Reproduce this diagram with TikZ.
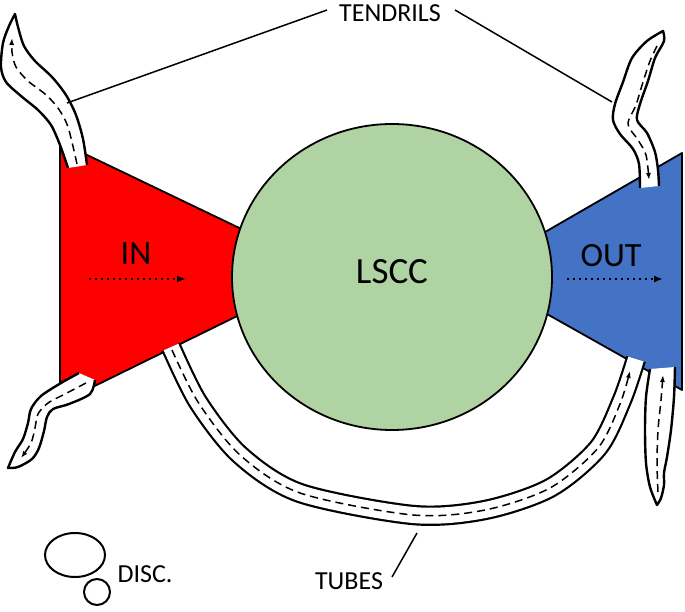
\documentclass[tikz,border=0pt]{standalone}
\usepackage{fontspec}
\setmainfont{Carlito}
\usetikzlibrary{arrows.meta}
\definecolor{inred}{RGB}{255,0,0}
\definecolor{sccgreen}{RGB}{176,211,163}
\definecolor{outblue}{RGB}{68,114,196}
\begin{document}
\begin{tikzpicture}[x=1pt,y=-1pt, line join=round,
  shapeline/.style={draw=black, line width=1.8pt},
  tendril/.style={draw=black, line width=2.4pt, fill=white},
  flowline/.style={draw=black, line width=1.5pt, dash pattern=on 8pt off 5pt, -{Latex[length=7pt,width=5pt]}},
  dotflow/.style={draw=black, line width=2pt, dash pattern=on 2pt off 4pt, -{Latex[length=9pt,width=7pt]}},
  leader/.style={draw=black, line width=1.5pt},
  biglabel/.style={font=\fontsize{34}{40}\selectfont, inner sep=0pt},
  smalllabel/.style={font=\fontsize{26}{30}\selectfont, inner sep=0pt}]
\useasboundingbox (0,0) rectangle (685,612);

% IN and OUT components
\draw[shapeline, fill=inred] (60,142) -- (329,271) -- (60,403) -- cycle;
\draw[shapeline, fill=outblue] (682,153) -- (474,273) -- (682,390) -- cycle;
% LSCC
\draw[shapeline, fill=sccgreen] (392,277) ellipse [x radius=160, y radius=153];

% labels
\node[biglabel] (inlabel) at (136,254) {IN};
\node[biglabel] (outlabel) at (611,256) {OUT};
\node[font=\fontsize{37}{44}\selectfont, inner sep=0pt] (lscc) at (392,272) {LSCC};
\node[smalllabel] (tendrils) at (390,13) {TENDRILS};
\node[smalllabel] (tubes) at (349,581) {TUBES};
\node[smalllabel] (disc) at (145,574) {DISC.};

% dotted flow arrows
\coordinate (inA) at (89,279);
\coordinate (inB) at (186,279);
\coordinate (outA) at (567,279);
\coordinate (outB) at (663,279);
\draw[dotflow] (inA) -- (inB);
\draw[dotflow] (outA) -- (outB);

% tube
\draw[line width=2.2pt, double=white, double distance=16pt]
  plot[smooth] coordinates {(171,347) (198,402) (240,455) (300,493) (413,515) (485,510) (550,488) (598,448) (622,400) (636,359)};
\draw[flowline]
  plot[smooth] coordinates {(172,350) (198,402) (240,455) (300,493) (413,515) (485,510) (550,488) (598,448) (620,404) (630,371)};

% top-left tendril
\draw[tendril]
  plot[smooth] coordinates {(68,168) (60,145) (51,125) (38,110) (21,96) (6,82) (1,67) (3,43) (9,26) (15,14)}
  -- plot[smooth] coordinates {(15,14) (18,27) (24,46) (35,61) (52,77) (66,95) (76,115) (83,139) (87,165)};
\draw[flowline]
  plot[smooth] coordinates {(77,164) (68,127) (58,108) (45,94) (28,81) (16,67) (12,52) (12,38)};

% top-right tendril
\draw[tendril]
  plot[smooth] coordinates {(640,188) (639,164) (633,149) (620,134) (613,120) (615,104) (623,82) (632,58) (647,41) (663,31)}
  -- plot[smooth] coordinates {(663,31) (664,41) (655,58) (648,81) (640,104) (637,120) (647,133) (655,152) (658,170) (659,186)};
\draw[flowline]
  plot[smooth] coordinates {(657,46) (650,61) (643,82) (636,105) (628,124) (638,140) (646,155) (649,180)};

% bottom-left tendril
\draw[tendril]
  plot[smooth] coordinates {(79,373) (61,383) (41,396) (31,409) (28,423) (23,439) (15,452) (8,468)}
  -- plot[smooth] coordinates {(8,468) (18,467) (32,459) (39,448) (44,431) (47,417) (53,409) (69,404) (90,394) (95,380)};
\draw[flowline]
  plot[smooth] coordinates {(86,383) (65,394) (48,403) (38,414) (35,428) (31,443) (21,458)};

% bottom-right tendril
\draw[tendril]
  plot[smooth] coordinates {(650,369) (646,397) (645,430) (646,463) (650,487) (657,505)}
  -- plot[smooth] coordinates {(657,505) (661,498) (664,485) (664,473) (667,457) (671,430) (674,397) (675,367)};
\draw[flowline]
  plot[smooth] coordinates {(658,492) (657,463) (658,430) (661,400) (663,375)};

% disconnected components
\draw[line width=2pt] (75,555) ellipse [x radius=30, y radius=22];
\draw[line width=2pt] (97,592) circle [radius=13];

% leader lines
\coordinate (tendrilL) at (67,103);
\coordinate (tendrilLtxt) at (327,10);
\coordinate (tendrilR) at (612,102);
\coordinate (tendrilRtxt) at (455,10);
\coordinate (tubeP) at (417,533);
\coordinate (tubeTxt) at (392,577);
\draw[leader] (tendrilL) -- (tendrilLtxt);
\draw[leader] (tendrilRtxt) -- (tendrilR);
\draw[leader] (tubeP) -- (tubeTxt);
\end{tikzpicture}
\end{document}
